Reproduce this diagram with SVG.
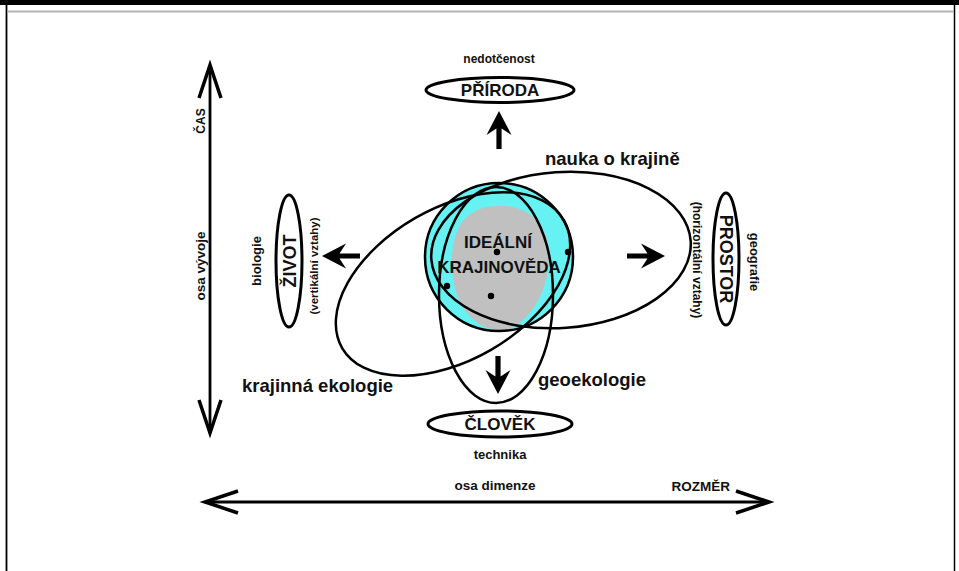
<svg xmlns="http://www.w3.org/2000/svg" width="959" height="571" viewBox="0 0 959 571">
<style>
  text { font-family: "Liberation Sans", Arial, sans-serif; font-weight: bold; fill: #111; }
  .node { fill: none; stroke: #000; stroke-width: 3; }
  .field { fill: none; stroke: #000; stroke-width: 2.5; }
  .axis { fill: none; stroke: #000; stroke-width: 2.8; }
  .head { fill: none; stroke: #000; stroke-width: 3.5; stroke-linecap: butt; stroke-linejoin: miter; }
  .dot { fill: #000; }
  .big { font-size: 17px; }
  .lbl { font-size: 18.5px; }
</style>
<defs>
  <path id="arr" d="M0,0 L12.5,24 L2.6,17.5 L2.6,38 L-2.6,38 L-2.6,17.5 L-12.5,24 Z" fill="#000"/>
  <ellipse id="eNauka" cx="561" cy="250" rx="130" ry="78" transform="rotate(-4 561 250)"/>
  <ellipse id="eKraj" cx="453" cy="284" rx="128" ry="76" transform="rotate(-30 453 284)"/>
  <ellipse id="eGeo" cx="496" cy="295" rx="57" ry="108"/>
</defs>
<rect width="959" height="571" fill="#fff"/>
<g id="frame">
  <rect x="0" y="0" width="959" height="5" fill="#000"/>
  <line x1="6.5" y1="5" x2="6.5" y2="571" stroke="#000" stroke-width="1.8"/>
  <line x1="954.5" y1="5" x2="954.5" y2="571" stroke="#000" stroke-width="1.5"/>
  <line x1="7.5" y1="11.5" x2="953.5" y2="11.5" stroke="#b4b4b4" stroke-width="2"/>
</g>
<g id="ideal">
  <circle cx="499" cy="257" r="74" fill="#66f2f2"/>
  <path d="M497,206 C525,204 548,222 549,252 C550,285 535,318 508,330 C485,333 465,318 457,295 C449,270 450,240 462,222 C472,210 484,206 497,206 Z" fill="#c0c0c0"/>
  <circle cx="499" cy="257" r="74" class="field"/>
</g>
<g id="nauka">
  <use href="#eNauka" class="field"/>
  <text x="545" y="165" class="lbl">nauka o krajině</text>
</g>
<g id="krajinna">
  <use href="#eKraj" class="field"/>
  <text x="242" y="392" class="lbl">krajinná ekologie</text>
</g>
<g id="geoekologie">
  <use href="#eGeo" class="field"/>
  <text x="538" y="386" class="lbl">geoekologie</text>
</g>
<g id="dots">
  <circle cx="497" cy="252" r="3.2" class="dot"/>
  <circle cx="568" cy="252" r="3.2" class="dot"/>
  <circle cx="447" cy="286" r="3.2" class="dot"/>
  <circle cx="491" cy="296" r="3.2" class="dot"/>
</g>
<g id="ideal-label">
  <text x="498" y="248" class="big" text-anchor="middle">IDEÁLNÍ</text>
  <text x="499" y="273" class="big" text-anchor="middle">KRAJINOVĚDA</text>
</g>
<g id="priroda">
  <text x="499" y="63" font-size="12" text-anchor="middle">nedotčenost</text>
  <ellipse cx="500" cy="90" rx="74" ry="12.5" class="node"/>
  <text x="500" y="96" class="big" text-anchor="middle">PŘÍRODA</text>
</g>
<g id="clovek">
  <ellipse cx="500" cy="424" rx="72" ry="13" class="node"/>
  <text x="500" y="430" class="big" text-anchor="middle">ČLOVĚK</text>
  <text x="500" y="459" font-size="13" text-anchor="middle">technika</text>
</g>
<g id="zivot">
  <ellipse cx="289" cy="261" rx="13" ry="66" class="node"/>
  <text transform="translate(296 261) rotate(-90)" font-size="18" text-anchor="middle">ŽIVOT</text>
  <text transform="translate(261 261) rotate(-90)" font-size="13" text-anchor="middle">biologie</text>
  <text transform="translate(318 266) rotate(-90)" font-size="11.5" text-anchor="middle">(vertikální vztahy)</text>
</g>
<g id="prostor">
  <ellipse cx="726" cy="259" rx="13" ry="66" class="node"/>
  <text transform="translate(720 259) rotate(90)" font-size="18" text-anchor="middle">PROSTOR</text>
  <text transform="translate(750 262) rotate(90)" font-size="13" text-anchor="middle">geografie</text>
  <text transform="translate(693 260) rotate(90)" font-size="12" text-anchor="middle">(horizontální vztahy)</text>
</g>
<g id="cas-axis">
  <text transform="translate(205 121) rotate(-90)" font-size="12" text-anchor="middle">ČAS</text>
  <text transform="translate(205 266) rotate(-90)" font-size="13.5" text-anchor="middle">osa vývoje</text>
</g>
<g id="rozmer-axis">
  <text x="495" y="490" font-size="13.5" text-anchor="middle">osa dimenze</text>
  <text x="730" y="491" font-size="13.5" text-anchor="end">ROZMĚR</text>
</g>
<g id="connectors">
  <line x1="210" y1="67" x2="210" y2="431" class="axis"/>
  <polyline points="199,98 210,65 221,98" class="head"/>
  <polyline points="199,400 210,433 221,400" class="head"/>
  <line x1="207" y1="502" x2="767" y2="502" class="axis"/>
  <polyline points="238,491 205,502 238,513" class="head"/>
  <polyline points="736,491 769,502 736,513" class="head"/>
  <use href="#arr" transform="translate(499 111)"/>
  <use href="#arr" transform="translate(498 394) rotate(180)"/>
  <use href="#arr" transform="translate(322 256) rotate(-90)"/>
  <use href="#arr" transform="translate(665 256) rotate(90)"/>
</g>
</svg>
